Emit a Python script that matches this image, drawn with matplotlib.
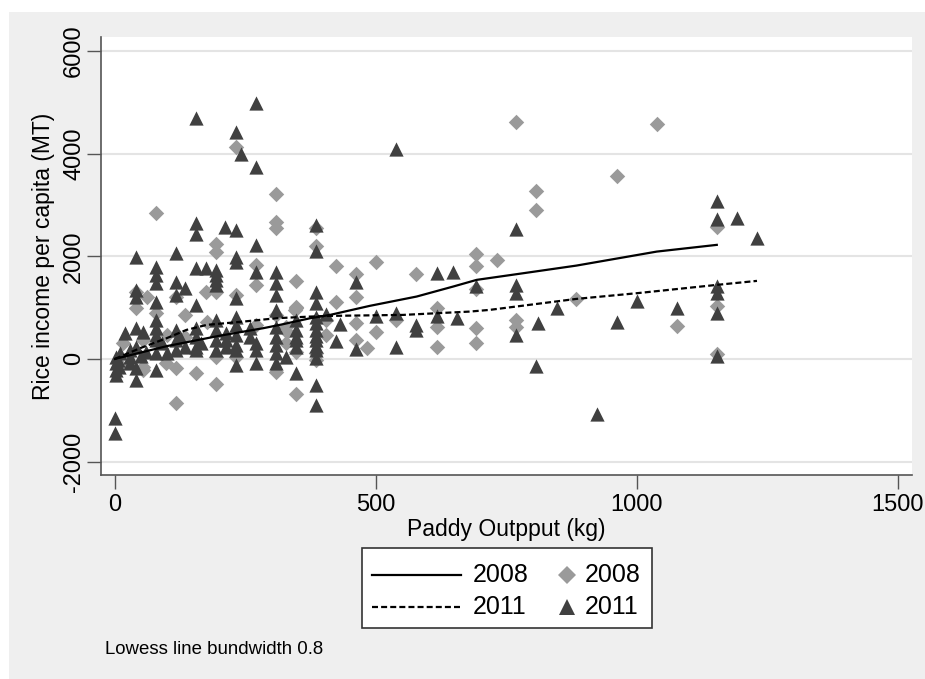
import matplotlib.pyplot as plt
from matplotlib.lines import Line2D
from matplotlib.patches import Rectangle

plt.rcParams['font.family'] = ['Liberation Sans', 'DejaVu Sans']

# scatter 2008 (diamonds)
x08 = [40, 40, 61, 78, 78, 116, 135, 174, 193, 193, 231, 231, 270, 270, 308, 308, 308,
       346, 346, 347, 385, 385, 423, 423, 462, 462, 500, 577, 692, 692,
       116, 155, 193, 116, 308, 346, 16, 54, 135, 97, 231,
       462, 462, 483, 500, 539, 616, 616, 616, 692, 692, 692,
       769, 1038, 962, 807, 807, 1153, 731, 884, 1077, 1153, 769, 769, 1153,
       54, 54, 10, 99, 176, 193, 308, 345, 193, 346, 385, 271, 329, 385, 328, 328, 404, 404]
y08 = [1312, 988, 1214, 2852, 890, 1214, 857, 1312, 2241, 2079, 4138, 1247, 1832, 1442, 3210, 2676, 2547,
       1527, 1020, 988, 2550, 2202, 1818, 1105, 1650, 1214, 1884, 1657, 2040, 1818,
       -182, -279, -487, -864, -260, -682, 305, -149, 435, -84, 45,
       695, 370, 208, 532, 760, 988, 630, 228, 1365, 598, 306,
       4625, 4580, 3573, 3274, 2910, 2567, 1923, 1169, 649, 1039, 760, 630, 97,
       370, -214, -117, 468, 727, 1312, 857, 955, 45, 142, -20, 663, 532, 110, 630, 300, 760, 468]

# scatter 2011 (triangles)
x11 = [0, 0, 1, 1, 1, 1, 10, 5, 8,
       20, 29, 29, 29, 40, 40, 40, 40, 40, 40, 40, 54, 59, 50,
       78, 78, 78, 78, 78, 78, 78, 78, 78, 78, 99, 90,
       116, 116, 116, 116, 116, 116, 135, 135, 125,
       155, 155, 155, 155, 155, 155, 155, 155, 155, 174, 165,
       193, 193, 193, 193, 193, 193, 193, 193, 211, 212, 212, 212,
       231, 241, 231, 231, 231, 231, 231, 231, 231, 231, 231, 231,
       270, 270, 270, 270, 259, 259, 270, 270, 270,
       308, 308, 308, 308, 308, 308, 308, 308, 308, 327,
       346, 346, 346, 346, 346, 346,
       385, 385, 385, 385, 385, 385, 385, 385, 385, 385, 385, 385, 385, 385,
       404, 432, 423, 462, 462, 500, 539, 539, 539, 577, 577, 616, 616, 648, 655, 692,
       769, 769, 769, 769, 807, 811, 846, 923, 962, 1000, 1077,
       1153, 1153, 1153, 1153, 1153, 1153, 1192, 1230]
y11 = [-1156, -1448, 45, -84, -214, -312, 110, -20, -150,
       500, 175, 45, -84, 1994, 1345, 1214, 598, 240, -182, -409, 532, 142, 60,
       1799, 1637, 1475, 1117, 760, 598, 468, 370, 110, -214, 110, 300,
       2060, 1507, 1247, 565, 370, 175, 1377, 240, 420,
       4691, 2657, 2430, 1767, 1052, 598, 435, 240, 175, 1767, 300,
       1734, 1637, 1540, 1443, 760, 565, 370, 175, 2566, 500, 370, 240,
       4430, 3995, 2514, 1994, 1897, 1183, 825, 663, 468, 273, 175, -117,
       4995, 3736, 2222, 1702, 598, 435, 305, 175, -84,
       1702, 1475, 1247, 955, 630, 435, 273, 110, -84, 45,
       760, 565, 435, 370, 240, -279,
       2611, 2111, 1312, 1085, 825, 565, 370, 175, 14, -507, -896, 700, 450, 260,
       877, 676, 357, 1494, 200, 844, 4087, 240, 903, 663, 565, 1670, 840, 1690, 793, 1423,
       2534, 1442, 1280, 468, -130, 708, 1000, -1078, 727, 1136, 988,
       3085, 2723, 1429, 1280, 890, 60, 2742, 2352]

# lowess curves
lx08 = [0, 100, 200, 284, 316, 373, 412, 488, 578, 648, 693, 769, 884, 1038, 1153]
ly08 = [0, 250, 450, 598, 663, 790, 857, 1033, 1215, 1410, 1540, 1650, 1818, 2091, 2222]
lx11 = [0, 48, 99, 137, 176, 246, 310, 373, 412, 552, 680, 718, 884, 1000, 1153, 1230]
ly11 = [0, 208, 403, 565, 663, 727, 793, 824, 838, 857, 922, 955, 1169, 1280, 1442, 1520]

legend_labels = ['2008', '2011']

bg = '#efefef'
dark = '#404040'
light = '#9a9a9a'
dash = (0, (2.7, 1.4))
W, H = 925, 679


def fx(px):
    return px / W


def fy(py):
    return 1 - py / H


fig = plt.figure(figsize=(9.25, 6.79), dpi=100)
fig.patch.set_facecolor('white')
fig.patches.append(Rectangle((fx(9), 0), 1, fy(12), transform=fig.transFigure,
                             facecolor=bg, edgecolor='none', zorder=-10))

ax = fig.add_axes([fx(101), fy(475), fx(912 - 101), (475 - 37) / H])
ax.set_facecolor('white')

ax.scatter(x08, y08, marker='D', s=62, color=light, linewidths=0, zorder=2)
ax.scatter(x11, y11, marker='^', s=105, color=dark, linewidths=0, zorder=3)
ax.plot(lx08, ly08, color='black', lw=1.6, zorder=4)
ax.plot(lx11, ly11, color='black', lw=1.6, ls=dash, zorder=4)

ax.set_xlim(-26.8, 1527)
ax.set_ylim(-2263, 6273)
ax.set_xticks([0, 500, 1000, 1500])
ax.set_yticks([-2000, 0, 2000, 4000, 6000])
ax.set_yticklabels(['-2000', '0', '2000', '4000', '6000'], rotation=90, va='center')
ax.tick_params(labelsize=17, length=10, width=1, color='#555555')
ax.tick_params(axis='x', pad=4)
ax.tick_params(axis='y', pad=1.5)
ax.yaxis.grid(True, color='#e4e4e4', lw=1.5)
ax.set_axisbelow(True)
for s in ['top', 'right']:
    ax.spines[s].set_visible(False)
for s in ['left', 'bottom']:
    ax.spines[s].set_color('#555555')
    ax.spines[s].set_linewidth(1.2)

ax.set_xlabel('Paddy Outpput (kg)', fontsize=16.5, labelpad=1)
ax.set_ylabel('Rice income per capita (MT)', fontsize=16.5)
ax.yaxis.set_label_coords(-0.057, 0.5)

# legend box, drawn by hand so the marker column sits close to its label
fig.patches.append(Rectangle((fx(362), fy(628)), fx(652 - 362), (628 - 548) / H,
                             transform=fig.transFigure, facecolor='white',
                             edgecolor='#333333', lw=1.2, zorder=5))
rows = [575, 607]
styles = ['-', dash]
markers = [('D', 9, light), ('^', 11, dark)]
for i, lab in enumerate(legend_labels):
    r = rows[i]
    fig.add_artist(Line2D([fx(372), fx(461)], [fy(r), fy(r)], color='black', lw=1.6,
                          ls=styles[i], transform=fig.transFigure, zorder=6))
    fig.text(fx(473), fy(r), lab, fontsize=18, va='center', ha='left', zorder=6)
    m, ms, c = markers[i]
    fig.add_artist(Line2D([fx(567)], [fy(r)], marker=m, ms=ms, color=c, ls='none',
                          mew=0, transform=fig.transFigure, zorder=6))
    fig.text(fx(585), fy(r), lab, fontsize=18, va='center', ha='left', zorder=6)

fig.text(fx(105), fy(649), 'Lowess line bundwidth 0.8', fontsize=13.4, va='center')

fig.savefig('out.png', dpi=100, facecolor=fig.get_facecolor())
